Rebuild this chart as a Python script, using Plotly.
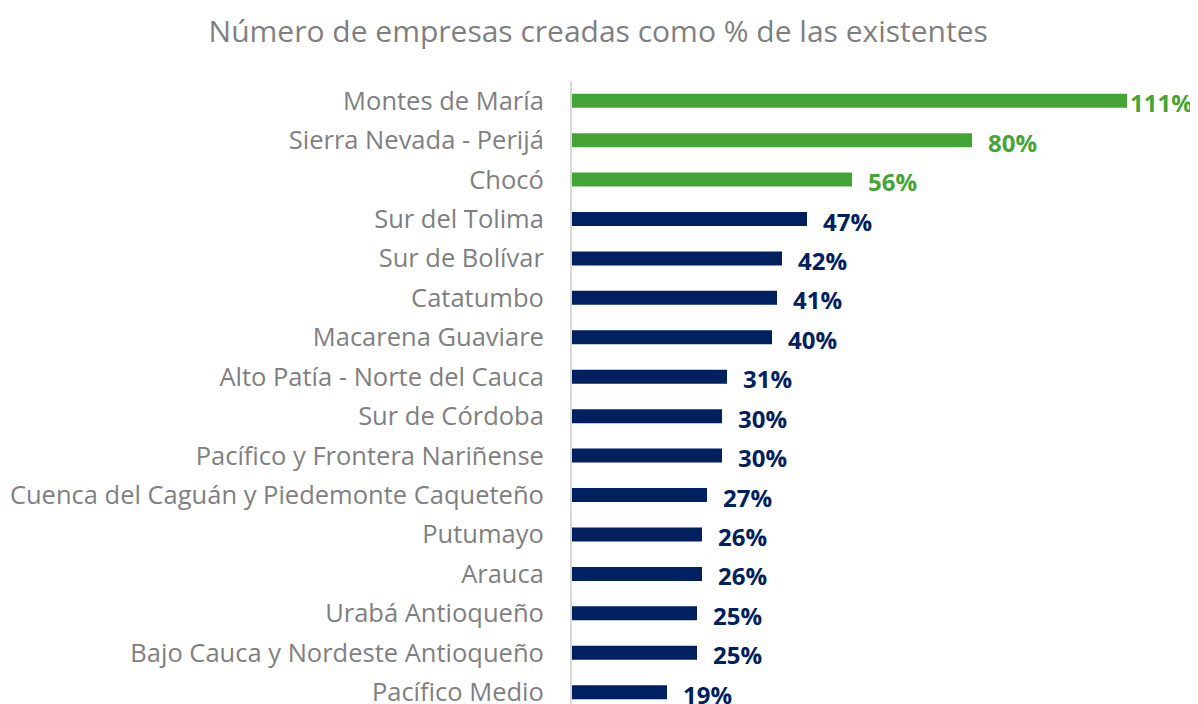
import plotly.graph_objects as go

categories = ["Montes de María", "Sierra Nevada - Perijá", "Chocó", "Sur del Tolima",
              "Sur de Bolívar", "Catatumbo", "Macarena Guaviare",
              "Alto Patía - Norte del Cauca", "Sur de Córdoba",
              "Pacífico y Frontera Nariñense", "Cuenca del Caguán y Piedemonte Caqueteño",
              "Putumayo", "Arauca", "Urabá Antioqueño",
              "Bajo Cauca y Nordeste Antioqueño", "Pacífico Medio"]
values = [111, 80, 56, 47, 42, 41, 40, 31, 30, 30, 27, 26, 26, 25, 25, 19]
highlight_count = 3

GREEN = "#43A535"
NAVY = "#002060"
GRAY = "#7F7F7F"
FONT = "Open Sans"

colors = [GREEN if i < highlight_count else NAVY for i in range(len(values))]

fig = go.Figure(go.Bar(
    x=values, y=categories, orientation="h",
    marker=dict(color=colors, line=dict(width=0)),
    hoverinfo="skip",
))

annotations = []
for c, v, col in zip(categories, values, colors):
    annotations.append(dict(x=v, y=c, xref="x", yref="y", text=f"<b>{v}%</b>",
                            showarrow=False, xanchor="left", yanchor="middle",
                            xshift=1 if v > 100 else 14, yshift=-2,
                            font=dict(family=FONT, size=24, color=col)))

fig.update_layout(
    width=1190, height=696,
    margin=dict(l=564, r=26, t=73, b=0),
    paper_bgcolor="white", plot_bgcolor="white",
    bargap=0.645,
    showlegend=False,
    title=dict(text="Número de empresas creadas como % de las existentes",
               x=0.496, xanchor="center", y=0.966, yanchor="middle", yref="container",
               font=dict(family=FONT, size=30, color=GRAY)),
    xaxis=dict(range=[0, 120], visible=False, fixedrange=True),
    yaxis=dict(range=[15.3, -0.5], type="category", automargin=False,
               showline=True, linecolor="#D9D9D9", linewidth=2,
               showgrid=False, zeroline=False, ticks="",
               ticklabelstandoff=21,
               tickfont=dict(family=FONT, size=25.5, color=GRAY)),
    annotations=annotations,
)

fig.write_html("out.html")
